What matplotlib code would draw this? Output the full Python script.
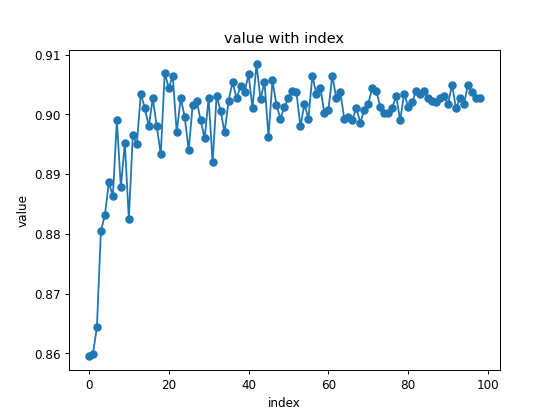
import matplotlib
matplotlib.use('Agg')
import matplotlib.pyplot as plt
import numpy as np

# nilai yang dibaca dari gambar, indeks 0..98
value = [
    0.8596, 0.8599, 0.8644, 0.8804, 0.8832, 0.8886, 0.8863, 0.8990, 0.8878, 0.8952,
    0.8825, 0.8965, 0.8950, 0.9034, 0.9011, 0.8980, 0.9027, 0.8980, 0.8933, 0.9070,
    0.9044, 0.9065, 0.8970, 0.9027, 0.8996, 0.8940, 0.9016, 0.9023, 0.8990, 0.8960,
    0.9027, 0.8920, 0.9031, 0.9006, 0.8970, 0.9023, 0.9054, 0.9027, 0.9047, 0.9037,
    0.9067, 0.9011, 0.9084, 0.9026, 0.9054, 0.8963, 0.9057, 0.9016, 0.8993, 0.9013,
    0.9027, 0.9040, 0.9037, 0.8980, 0.9017, 0.8993, 0.9065, 0.9034, 0.9044, 0.9003,
    0.9007, 0.9065, 0.9027, 0.9037, 0.8993, 0.8996, 0.8990, 0.9011, 0.8986, 0.9007,
    0.9018, 0.9044, 0.9040, 0.9013, 0.9003, 0.9003, 0.9011, 0.9031, 0.8990, 0.9035,
    0.9013, 0.9020, 0.9040, 0.9035, 0.9040, 0.9027, 0.9023, 0.9020, 0.9027, 0.9031,
    0.9017, 0.9050, 0.9010, 0.9027, 0.9017, 0.9050, 0.9037, 0.9027, 0.9027,
]
index = np.arange(len(value))

fig, ax = plt.subplots(figsize=(6.4, 4.8), dpi=86.72)
ax.plot(index, value, 'o-')
ax.set_title('value with index')
ax.set_xlabel('index')
ax.set_ylabel('value')

fig.savefig('out.png')
